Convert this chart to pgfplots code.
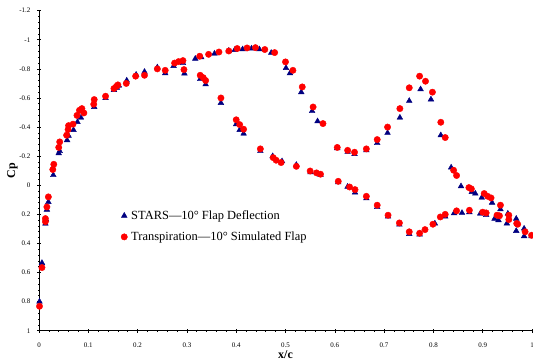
\documentclass[border=0pt]{standalone}
\usepackage{pgfplots}
\pgfplotsset{compat=1.18}
\usepackage{fontspec}
\setmainfont{Liberation Serif}
\usetikzlibrary{calc}
\definecolor{navy}{RGB}{0,0,128}
\definecolor{tred}{RGB}{255,0,0}
\begin{document}
\begin{tikzpicture}
\begin{axis}[
  scale only axis, width=493bp, height=320bp,
  xmin=0, xmax=1, ymin=-1.2, ymax=1, y dir=reverse,
  axis x line*=bottom, axis y line*=left,
  clip=false,
  xtick={0,0.1,0.2,0.3,0.4,0.5,0.6,0.7,0.8,0.9,1},
  xticklabels={0,0.1,0.2,0.3,0.4,0.5,0.6,0.7,0.8,0.9,1},
  ytick={-1.2,-1,-0.8,-0.6,-0.4,-0.2,0,0.2,0.4,0.6,0.8,1},
  yticklabels={-1.2,-1,-0.8,-0.6,-0.4,-0.2,0,0.2,0.4,0.6,0.8,1},
  minor x tick num=4, minor y tick num=4,
  tick align=center, major tick length=4bp, minor tick length=2bp,
  tick style={black, line width=0.6bp},
  axis line style={black, line width=0.8bp},
  ticklabel style={font=\fontsize{7}{8}\selectfont, inner sep=0pt},
  xticklabel style={anchor=center, yshift=-12.6bp},
  yticklabel style={anchor=east, xshift=-6.5bp},
  every axis x label/.style={at={(axis description cs:0.5,0)}, anchor=center, yshift=-24.3bp},
  every axis y label/.style={at={(axis description cs:0,0.5)}, xshift=-26.5bp, rotate=90, anchor=center},
  xlabel={\fontsize{12}{14}\selectfont\bfseries x/c},
  ylabel={\fontsize{12}{14}\selectfont\bfseries Cp},
  legend style={draw=none, fill=none, font=\fontsize{12.5}{14}\selectfont,
    at={(axis cs:0.160,0.282)}, anchor=west, row sep=11bp,
    nodes={inner sep=0pt},
    /tikz/every odd column/.append style={column sep=3.8bp}},
  legend cell align=left,
  legend image code/.code={\draw[#1] plot coordinates {(0bp,0bp)};},
]
\addplot[only marks, mark=triangle*, mark size=3.3, color=navy] table {
x y
0.001 0.800
0.006 0.534
0.013 0.264
0.014 0.235
0.016 0.168
0.019 0.115
0.029 -0.070
0.040 -0.220
0.042 -0.235
0.057 -0.310
0.060 -0.340
0.070 -0.380
0.078 -0.435
0.085 -0.465
0.112 -0.538
0.135 -0.600
0.152 -0.655
0.158 -0.670
0.162 -0.685
0.178 -0.720
0.197 -0.760
0.214 -0.780
0.240 -0.810
0.256 -0.770
0.273 -0.820
0.292 -0.840
0.295 -0.768
0.317 -0.870
0.329 -0.880
0.356 -0.905
0.385 -0.925
0.397 -0.930
0.413 -0.935
0.431 -0.940
0.447 -0.935
0.471 -0.910
0.501 -0.806
0.509 -0.770
0.532 -0.640
0.554 -0.510
0.565 -0.440
0.605 -0.255
0.626 -0.230
0.640 -0.215
0.664 -0.240
0.686 -0.290
0.707 -0.360
0.732 -0.465
0.751 -0.580
0.774 -0.660
0.795 -0.590
0.815 -0.344
0.836 -0.122
0.856 0.007
0.878 0.046
0.885 0.057
0.898 0.085
0.919 0.120
0.936 0.165
0.951 0.195
0.949 0.263
0.968 0.230
0.968 0.314
0.984 0.298
0.984 0.350
0.999 0.350
0.327 -0.730
0.338 -0.694
0.369 -0.566
0.400 -0.420
0.407 -0.380
0.415 -0.355
0.449 -0.235
0.474 -0.200
0.493 -0.165
0.522 -0.140
0.551 -0.090
0.571 -0.070
0.607 -0.020
0.626 0.010
0.641 0.050
0.664 0.090
0.686 0.150
0.708 0.215
0.731 0.270
0.751 0.335
0.772 0.338
0.803 0.263
0.824 0.215
0.842 0.192
0.858 0.190
0.873 0.185
0.895 0.195
0.907 0.205
0.924 0.230
0.932 0.240
};
\addlegendentry{STARS---10\textdegree{} Flap Deflection}
\addplot[only marks, mark=*, mark size=3.2, color=tred] table {
x y
0.001 0.832
0.006 0.566
0.013 0.250
0.013 0.229
0.016 0.149
0.019 0.080
0.028 -0.108
0.030 -0.144
0.040 -0.260
0.042 -0.298
0.056 -0.344
0.059 -0.383
0.060 -0.410
0.069 -0.420
0.077 -0.480
0.082 -0.515
0.087 -0.527
0.091 -0.497
0.111 -0.557
0.112 -0.589
0.135 -0.612
0.152 -0.665
0.157 -0.680
0.160 -0.690
0.177 -0.700
0.196 -0.750
0.214 -0.756
0.240 -0.800
0.256 -0.790
0.275 -0.840
0.283 -0.850
0.292 -0.857
0.294 -0.795
0.326 -0.887
0.344 -0.900
0.365 -0.916
0.385 -0.923
0.402 -0.940
0.422 -0.944
0.439 -0.946
0.458 -0.933
0.478 -0.912
0.500 -0.848
0.515 -0.790
0.534 -0.676
0.556 -0.538
0.576 -0.424
0.605 -0.260
0.626 -0.240
0.640 -0.227
0.664 -0.250
0.686 -0.314
0.707 -0.400
0.732 -0.527
0.751 -0.670
0.772 -0.750
0.784 -0.715
0.798 -0.640
0.815 -0.433
0.824 -0.328
0.841 -0.103
0.847 -0.067
0.872 0.016
0.877 0.025
0.903 0.057
0.910 0.076
0.917 0.087
0.936 0.137
0.953 0.206
0.953 0.236
0.971 0.268
0.986 0.320
0.999 0.344
0.327 -0.756
0.333 -0.740
0.338 -0.720
0.369 -0.600
0.400 -0.450
0.407 -0.417
0.415 -0.385
0.449 -0.250
0.475 -0.190
0.481 -0.172
0.491 -0.156
0.522 -0.130
0.550 -0.098
0.563 -0.085
0.571 -0.076
0.607 -0.027
0.630 0.012
0.641 0.030
0.664 0.076
0.686 0.137
0.708 0.206
0.731 0.259
0.751 0.320
0.772 0.330
0.783 0.305
0.799 0.268
0.814 0.218
0.824 0.200
0.847 0.176
0.873 0.172
0.900 0.185
0.907 0.190
0.929 0.206
0.934 0.210
0.969 0.263
};
\addlegendentry{Transpiration---10\textdegree{} Simulated Flap}
\end{axis}
\pgfresetboundingbox
\path[use as bounding box] ($(current axis.south west)+(-39bp,-30.3bp)$) rectangle ++(533bp,361bp);
\end{tikzpicture}
\end{document}
